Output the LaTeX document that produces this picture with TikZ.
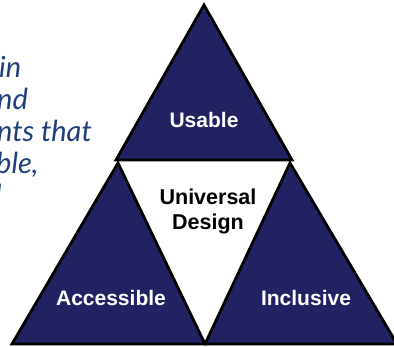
\documentclass[tikz,border=0pt]{standalone}
\usepackage{fontspec}
\setmainfont{Liberation Sans}
\newfontfamily\latofont{Lato}
\definecolor{navy}{RGB}{34,34,98}
\definecolor{txtblue}{RGB}{32,62,122}
\begin{document}
\begin{tikzpicture}[x=1pt,y=-1pt,
  tri/.style={fill=navy,draw=black,line width=2.8pt,line join=miter},
  lbl/.style={font=\fontsize{21}{23}\selectfont\bfseries,text=white,inner sep=0pt},
  ctr/.style={font=\fontsize{21.5}{25}\selectfont\bfseries,text=black,align=center,inner sep=0pt},
  frag/.style={font=\latofont\itshape\fontsize{29}{32}\selectfont,text=txtblue,anchor=base west,inner sep=0pt}]
\useasboundingbox (0,0) rectangle (394,347);
\begin{scope}
\clip (0,0) rectangle (394,347);
% left text fragments
\node[frag] (f1) at (-1,78) {in};
\node[frag] (f2) at (-3,110) {nd};
\node[frag] (f3) at (-3,142) {nts that};
\node[frag] (f4) at (-4,174) {ble,};
\node[frag] (f5) at (-5,206) {l};
% triangles
\draw[tri] (204,5) -- (116,160) -- (292,160) -- cycle;
\draw[tri] (118,163) -- (12,344) -- (205,344) -- cycle;
\draw[tri] (290,163) -- (205,344) -- (397,344) -- cycle;
\end{scope}
\node[lbl] (u) at (204,120) {Usable};
\node[lbl] (a) at (111,298) {Accessible};
\node[lbl] (i) at (306,298) {Inclusive};
\node[ctr] (ud) at (208,211) {Universal\\Design};
\end{tikzpicture}
\end{document}
